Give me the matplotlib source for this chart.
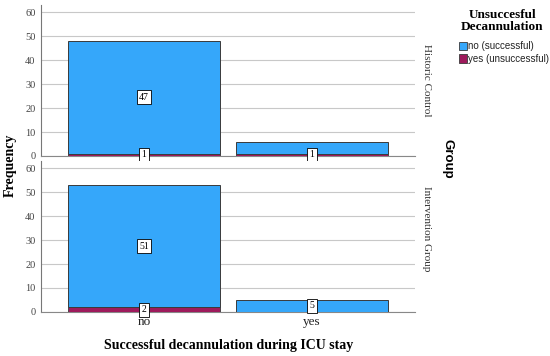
import numpy as np
import matplotlib.pyplot as plt

# data
categorias = ["no", "yes"]
grupos = ["Historic Control", "Intervention Group"]
exitoso = [[47, 5], [51, 5]]        # no (successful)
no_exitoso = [[1, 1], [2, 0]]       # yes (unsuccessful)
# which segment labels are shown in the original
etiq_exitoso = [[True, False], [True, True]]
etiq_no_exitoso = [[True, True], [True, False]]

azul = "#35A7FA"
magenta = "#9E1A5C"
borde = "#3a3a3a"
serif = "Liberation Serif"
sans = "Liberation Sans"

fig = plt.figure(figsize=(5.5, 3.56), dpi=100)
pos = [[0.0745, 0.5618, 0.68, 0.4247], [0.0745, 0.1236, 0.68, 0.4247]]

x = np.arange(len(categorias))
for i, g in enumerate(grupos):
    ax = fig.add_axes(pos[i])
    base = np.array(no_exitoso[i], dtype=float)
    top = np.array(exitoso[i], dtype=float)
    ax.bar(x, base, width=0.9, color=magenta, edgecolor=borde, linewidth=0.6, zorder=3)
    ax.bar(x, top, bottom=base, width=0.9, color=azul, edgecolor=borde, linewidth=0.7, zorder=3)

    caja = dict(boxstyle="square,pad=0.25", facecolor="white", edgecolor="black", linewidth=0.6)
    for j in range(len(categorias)):
        if etiq_exitoso[i][j]:
            ax.text(x[j], base[j] + top[j] / 2, str(exitoso[i][j]), ha="center", va="center",
                    fontsize=7, family=serif, bbox=caja, zorder=5)
        if etiq_no_exitoso[i][j]:
            yv = max(base[j] / 2, 0.5)
            ax.text(x[j], yv, str(no_exitoso[i][j]), ha="center", va="center",
                    fontsize=7, family=serif, bbox=caja, zorder=5)

    ax.set_xlim(-0.613, 1.613)
    ax.set_ylim(0, 63)
    ax.set_yticks(np.arange(0, 61, 10))
    ax.yaxis.grid(True, color="#c8c8c8", linewidth=0.8, zorder=0)
    ax.tick_params(axis="y", length=0, labelsize=7.5, labelcolor="#444444", pad=4)
    for lab in ax.get_yticklabels():
        lab.set_family(serif)
    for s in ["top", "right"]:
        ax.spines[s].set_visible(False)
    ax.spines["left"].set_color("#777777")
    ax.spines["bottom"].set_color("#888888")
    ax.spines["left"].set_linewidth(0.8)
    ax.spines["bottom"].set_linewidth(0.8)

    if i == 0:
        ax.set_xticks([])
    else:
        ax.set_xticks(x)
        ax.set_xticklabels(categorias, fontsize=9.5, family=serif, color="#222222")
        ax.tick_params(axis="x", length=0, pad=3)

    # facet label on the right
    ax.text(1.03, 0.5 if i == 0 else 0.55, g, transform=ax.transAxes, rotation=-90,
            ha="center", va="center", fontsize=8, family=serif, color="#333333")

fig.text(0.415, 0.03, "Successful decannulation during ICU stay", ha="center", va="center",
         fontsize=10, fontweight="bold", family=serif)
fig.text(0.018, 0.535, "Frequency", rotation=90, ha="center", va="center",
         fontsize=10, fontweight="bold", family=serif)
fig.text(0.813, 0.553, "Group", rotation=-90, ha="center", va="center",
         fontsize=9.5, fontweight="bold", family=sans)

# legend
fig.text(0.913, 0.94, "Unsuccesful\nDecannulation", ha="center", va="center",
         fontsize=9.5, fontweight="bold", family=serif, linespacing=1.0)
colores_leg = [azul, magenta]
textos_leg = ["no (successful)", "yes (unsuccessful)"]
for k in range(2):
    yk = 1 - (46 + 12.5 * k) / 356
    fig.patches.append(plt.Rectangle((459 / 550, yk - 4 / 356), 8 / 550, 8 / 356,
                                     transform=fig.transFigure, facecolor=colores_leg[k],
                                     edgecolor=borde, linewidth=0.6))
    fig.text(468 / 550, yk, textos_leg[k], ha="left", va="center", fontsize=7,
             family=sans, color="#222222")

fig.savefig("out.png", dpi=100)
